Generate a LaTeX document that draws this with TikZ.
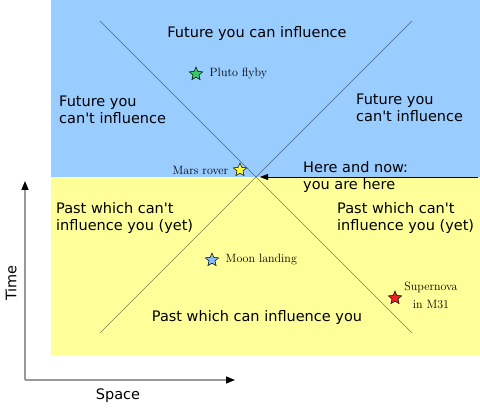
\documentclass[tikz,border=0pt]{standalone}
\usepackage{fontspec}
\setsansfont{DejaVu Sans}
\usetikzlibrary{arrows.meta, shapes.geometric, positioning}

\definecolor{futureblue}{HTML}{99CCFF}
\definecolor{pastyellow}{HTML}{FFFF99}
\definecolor{plutogreen}{HTML}{33CC66}
\definecolor{marsyellow}{HTML}{FFFF33}
\definecolor{moonblue}{HTML}{88BBFF}
\definecolor{novared}{HTML}{EE2222}

\begin{document}
\begin{tikzpicture}[x=1pt, y=-1pt,
    region/.style={font=\sffamily\fontsize{14.5}{17}\selectfont, align=left, inner sep=0pt},
    event/.style={font=\fontsize{12}{18}\selectfont, inner sep=0pt},
    evstar/.style={star, star points=5, star point ratio=2.2, draw=black,
        line width=0.5pt, minimum size=14pt, inner sep=0pt}]
        %背景
        \useasboundingbox (0,0) rectangle (480,409);
        \fill[futureblue] (51,0) rectangle (480,177);
        \fill[pastyellow] (51,177) rectangle (480,355);

        %光円錐
        \coordinate (now) at (256,177);
        \coordinate (tl) at (100,21);
        \coordinate (tr) at (412,21);
        \coordinate (bl) at (100,333);
        \coordinate (br) at (412,333);
        \draw[black, opacity=0.5, line width=0.7pt] (tl) -- (br);
        \draw[black, opacity=0.5, line width=0.7pt] (tr) -- (bl);

        %領域の説明
        \node[region] (fcan) at (257,34) {Future you can influence};
        \node[region, anchor=west] (fleft) at (59,110) {Future you\\can\textquotesingle t influence};
        \node[region, anchor=west] (fright) at (356,108) {Future you\\can\textquotesingle t influence};
        \node[region, anchor=west] (pleft) at (56,218) {Past which can\textquotesingle t\\influence you (yet)};
        \node[region, anchor=west] (pright) at (337,218) {Past which can\textquotesingle t\\influence you (yet)};
        \node[region] (pcan) at (257,317) {Past which can influence you};

        %現在地
        \node[region, anchor=west] (here) at (303,177) {Here and now:\\you are here};
        \coordinate (hnend) at (478,177);
        \draw[line width=0.8pt, -{Triangle[length=8pt, width=6pt]}, shorten >=4pt] (hnend) -- (now);

        %出来事
        \node[evstar, fill=plutogreen] (pluto) at (196,74) {};
        \node[event, right=9pt of pluto] (plutolbl) {Pluto flyby};
        \node[evstar, fill=marsyellow] (mars) at (240,170) {};
        \node[event, left=7pt of mars] (marslbl) {Mars rover};
        \node[evstar, fill=moonblue] (moon) at (212,260) {};
        \node[event, right=9pt of moon] (moonlbl) {Moon landing};
        \node[evstar, fill=novared] (nova) at (395,298) {};
        \node[event, align=center] (novalbl) at (431,295) {Supernova\\in M31};

        %軸
        \coordinate (origin) at (25,380);
        \coordinate (taxis) at (25,181);
        \coordinate (saxis) at (235,380);
        \draw[black!40, line width=1.5pt, -{Triangle[length=9pt, width=7pt, color=black]}] (origin) -- (taxis);
        \draw[black!40, line width=1.5pt, -{Triangle[length=9pt, width=7pt, color=black]}] (origin) -- (saxis);
        \node[region, rotate=90] (timelbl) at (11,283) {Time};
        \node[region] (spacelbl) at (118,396) {Space};
\end{tikzpicture}
\end{document}
